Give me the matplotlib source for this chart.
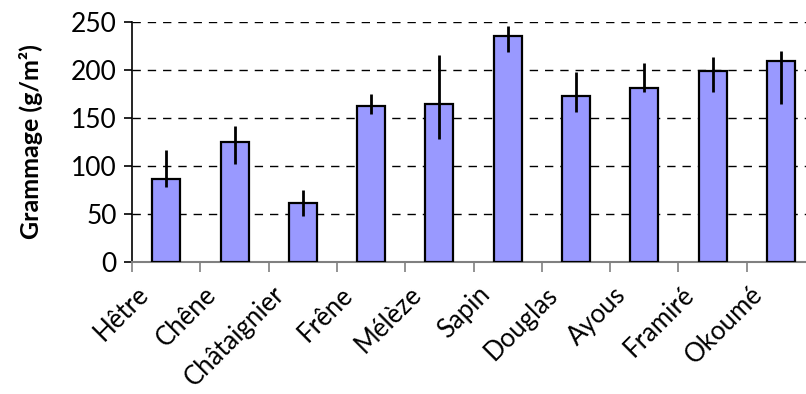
import numpy as np
import matplotlib.pyplot as plt
import matplotlib.transforms as mtransforms

species = ["Hêtre", "Chêne", "Châtaignier", "Frêne", "Mélèze",
           "Sapin", "Douglas", "Ayous", "Framiré", "Okoumé"]
grammage = [86.5, 124.7, 60.8, 162.9, 165.0, 236.0, 173.3, 181.3, 199.4, 209.4]
err_low = [78, 101.8, 47.6, 154.6, 128.5, 218.8, 156.3, 177.1, 177.1, 164.3]
err_high = [117, 141.4, 74.7, 175.4, 216, 246.6, 197.6, 207.7, 213.6, 219.8]

plt.rcParams['font.family'] = ['Lato', 'DejaVu Sans']

fig = plt.figure(figsize=(8.06, 3.94), dpi=100)
ax = fig.add_axes([0.164, 0.3358, 0.836, 0.6076])

x = np.arange(len(species))
vals = np.array(grammage)
yerr = [vals - np.array(err_low), np.array(err_high) - vals]

ax.bar(x, vals, width=0.41, color="#9999ff", edgecolor="black", linewidth=1.6, zorder=3)
ax.errorbar(x, vals, yerr=yerr, fmt="none", ecolor="black", elinewidth=2, capsize=0, zorder=4)

ax.set_ylim(0, 250)
ax.set_xlim(-0.5, 9.368)
ax.set_yticks([0, 50, 100, 150, 200, 250])
ax.yaxis.grid(True, linestyle=(0, (6, 5)), color="black", linewidth=1, zorder=0)
ax.set_axisbelow(True)

# ticks at category boundaries, labels at bar centres
ax.set_xticks(np.arange(len(species)) - 0.5)
ax.set_xticklabels([])
ax.set_xticks(x, minor=True)
ax.set_xticklabels(species, minor=True, rotation=45, ha="right", va="center",
                   rotation_mode="anchor", fontsize=18.5)
ax.tick_params(axis="x", which="minor", length=0, pad=0)
ax.tick_params(axis="x", which="major", length=7, direction="out", color="#808080", width=1.2)
ax.tick_params(axis="y", length=6, direction="out", width=1.2, labelsize=19, pad=5)

shift = mtransforms.ScaledTranslation(-0.22, -0.29, fig.dpi_scale_trans)
for lbl in ax.get_xticklabels(minor=True):
    lbl.set_transform(lbl.get_transform() + shift)

for s in ["top", "right"]:
    ax.spines[s].set_visible(False)
ax.spines["left"].set_linewidth(1.2)
ax.spines["bottom"].set_color("#808080")
ax.spines["bottom"].set_linewidth(1.5)

ax.set_ylabel("Grammage (g/m²)", fontsize=18, fontweight="bold")
ax.yaxis.set_label_coords(-0.133, 0.5)

fig.savefig("out.png", dpi=100)
